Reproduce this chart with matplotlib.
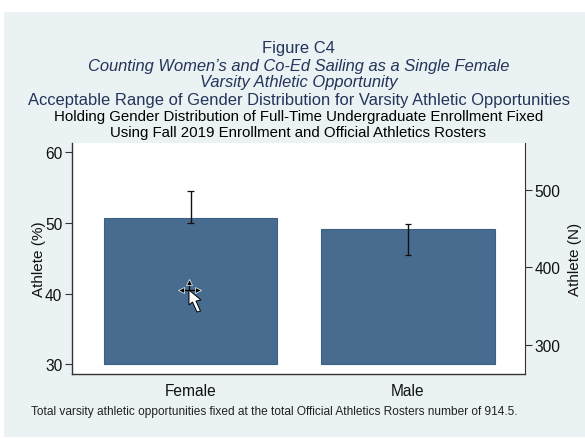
#import libraries
import matplotlib
matplotlib.use("Agg")
import matplotlib.pyplot as plt
from matplotlib.patches import Rectangle, Polygon

plt.rcParams['font.family'] = ['Liberation Sans', 'DejaVu Sans']

#data
categories = ['Female', 'Male']
athlete_pct = [50.65, 49.1]
err_low = [50.0, 45.4]
err_high = [54.5, 49.9]
total_athletes = 914.5

left_ticks = [30, 40, 50, 60]
right_ticks = [300, 400, 500]

W, H = 585, 439
bg_color = '#EAF2F3'
bar_color = '#476C8F'
navy = '#24345A'

fig = plt.figure(figsize=(W/100, H/100), dpi=100, facecolor='white')

#light background area (the chart sits a little inside the screenshot)
fig.patches.append(Rectangle((4/W, 1/H), (W-4)/W, 425/H, transform=fig.transFigure,
                             facecolor=bg_color, edgecolor='none', zorder=-5))

ax = fig.add_axes([72/W, 1-374.6/H, (525-72)/W, 230.6/H])
ax.set_facecolor('white')

x = [0, 1]
ax.bar(x, [v-30 for v in athlete_pct], bottom=30, width=0.798, color=bar_color,
       edgecolor='#3A6085', linewidth=0.8)
for xi, lo, hi in zip(x, err_low, err_high):
    ax.vlines(xi, lo, hi, color='#111111', linewidth=1.0, zorder=4)
    ax.hlines([lo, hi], xi-0.014, xi+0.014, color='#111111', linewidth=0.9, zorder=4)

ax.set_xlim(-0.545, 1.538)
ax.set_ylim(28.7, 61.3)
ax.set_xticks(x)
ax.set_xticklabels(categories, fontsize=11.2, color='#111111')
ax.tick_params(axis='x', length=0, pad=6.5)
ax.set_yticks(left_ticks)
ax.tick_params(axis='y', length=5, width=0.8, labelsize=11.2, color='#333333', labelcolor='#111111', pad=2)
ax.set_ylabel('Athlete (%)', fontsize=11, color='#111111', labelpad=-1)

#right axis is the same bars as a count of the 914.5 total
sec = ax.secondary_yaxis('right', functions=(lambda p: p*total_athletes/100,
                                             lambda n: n*100/total_athletes))
sec.set_yticks(right_ticks)
sec.tick_params(length=5, width=0.8, labelsize=11.2, color='#333333', labelcolor='#111111', pad=2)
sec.set_ylabel('Athlete (N)', fontsize=11, color='#111111', labelpad=5)

for s in ['left', 'bottom']:
    ax.spines[s].set_color('#333333')
    ax.spines[s].set_linewidth(1.0)
ax.spines['top'].set_visible(False)
ax.spines['right'].set_visible(False)
sec.spines['right'].set_color('#333333')
sec.spines['right'].set_linewidth(0.8)

#titles
cx = 298.5/W
fig.text(cx, 1-48.5/H, 'Figure C4', ha='center', va='center', fontsize=11.85, color=navy)
fig.text(cx, 1-66/H, 'Counting Women\u2019s and Co-Ed Sailing as a Single Female', ha='center', va='center',
         fontsize=11.85, style='italic', color=navy)
fig.text(cx, 1-83/H, 'Varsity Athletic Opportunity', ha='center', va='center',
         fontsize=11.85, style='italic', color=navy)
fig.text(cx, 1-100/H, 'Acceptable Range of Gender Distribution for Varsity Athletic Opportunities',
         ha='center', va='center', fontsize=11.85, color=navy)
fig.text(cx, 1-117.5/H, 'Holding Gender Distribution of Full-Time Undergraduate Enrollment Fixed',
         ha='center', va='center', fontsize=10.8, color='black')
fig.text(cx, 1-132.5/H, 'Using Fall 2019 Enrollment and Official Athletics Rosters',
         ha='center', va='center', fontsize=10.8, color='black')

#note
fig.text(31/W, 1-412/H, 'Total varsity athletic opportunities fixed at the total Official Athletics Rosters number of 914.5.',
         ha='left', va='center', fontsize=8.57, color='#222222')

#mouse cursor captured in the screenshot
fig.add_artist(plt.Line2D([181/W, 198/W], [1-290.5/H, 1-290.5/H], color='black', linewidth=0.9,
                          transform=fig.transFigure))
fig.add_artist(plt.Line2D([189/W, 189/W], [1-282/H, 1-299/H], color='black', linewidth=0.9,
                          transform=fig.transFigure))
for (a, b), m in zip([(189, 283), (181, 290.5), (198, 290.5)], ['^', '<', '>']):
    fig.add_artist(plt.Line2D([a/W], [1-b/H], marker=m, markersize=4, color='black',
                              markeredgecolor='white', markeredgewidth=0.5, transform=fig.transFigure))
cur = [(189, 291), (189, 306), (192.5, 303), (197, 313), (200.5, 312), (196, 302), (201, 301)]
fig.patches.append(Polygon([(a/W, 1-b/H) for a, b in cur], transform=fig.transFigure,
                           facecolor='white', edgecolor='black', linewidth=0.7, zorder=6))

plt.savefig("out.png", dpi=100)
